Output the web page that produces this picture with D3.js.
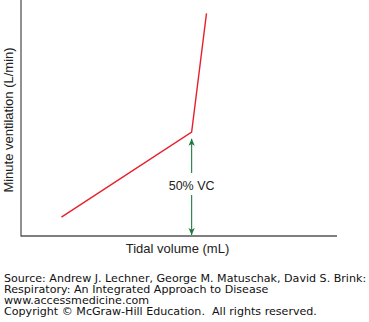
<!DOCTYPE html>
<html><head><meta charset="utf-8">
<script src="https://cdn.jsdelivr.net/npm/d3@7"></script>
<style>body{margin:0;background:#fff;}svg{display:block;}</style>
</head><body>
<svg id="c" width="369" height="322"></svg>
<script>
// Data (arbitrary units: x = tidal volume, y = minute ventilation)
const curveX = [12.8, 54, 58.7];
const curveY = [8, 44, 94.3];
const markerX = [54];
const markerLabel = ["50% VC"];
const xTitle = ["Tidal volume (mL)"];
const yTitle = ["Minute ventilation (L/min)"];
const sourceLines = [
  "Source: Andrew J. Lechner, George M. Matuschak, David S. Brink:",
  "Respiratory: An Integrated Approach to Disease",
  "www.accessmedicine.com",
  "Copyright \u00A9 McGraw-Hill Education.  All rights reserved."
];

const svg = d3.select("#c");
const m = {l: 21, r: 32, t: 0, b: 86};
const W = 369, H = 322;
const x = d3.scaleLinear().domain([0, 100]).range([m.l, W - m.r]);
const y = d3.scaleLinear().domain([0, 100]).range([H - m.b, m.t]);

const axisCol = "#555";
svg.append("line").attr("x1", x(0)).attr("x2", x(0)).attr("y1", y(100)).attr("y2", y(0) + 0.5)
  .attr("stroke", axisCol).attr("stroke-width", 1.3);
svg.append("line").attr("x1", x(0)).attr("x2", x(100)).attr("y1", y(0)).attr("y2", y(0))
  .attr("stroke", axisCol).attr("stroke-width", 1.3);

const pts = curveX.map((d, i) => [x(d), y(curveY[i])]);
svg.append("path").attr("d", d3.line()(pts)).attr("fill", "none")
  .attr("stroke", "#e8202e").attr("stroke-width", 1.4).attr("stroke-linejoin", "miter");

const green = "#1f7a3f";
const defs = svg.append("defs");
defs.append("marker").attr("id", "ah").attr("viewBox", "0 0 10 10").attr("refX", 10).attr("refY", 5)
  .attr("markerWidth", 7).attr("markerHeight", 7).attr("markerUnits", "userSpaceOnUse")
  .attr("orient", "auto")
  .append("path").attr("d", "M0,0.5 L10,5 L0,9.5 L2.5,5 Z").attr("fill", green);

const ax = x(markerX[0]);
const yTop = y(curveY[1]) + 6.5;
const yBot = y(0) - 1;
const labelY = 190;
svg.append("line").attr("x1", ax).attr("x2", ax).attr("y1", labelY - 17).attr("y2", yTop)
  .attr("stroke", green).attr("stroke-width", 1.1).attr("marker-end", "url(#ah)");
svg.append("line").attr("x1", ax).attr("x2", ax).attr("y1", labelY + 5).attr("y2", yBot)
  .attr("stroke", green).attr("stroke-width", 1.1).attr("marker-end", "url(#ah)");
svg.append("text").attr("x", ax).attr("y", labelY).attr("text-anchor", "middle")
  .attr("font-family", "Liberation Sans, Arial, sans-serif").attr("font-size", 12.5).attr("fill", "#222")
  .text(markerLabel[0]);

svg.append("text").attr("x", 177.5).attr("y", 253).attr("text-anchor", "middle")
  .attr("font-family", "Liberation Sans, Arial, sans-serif").attr("font-size", 13).attr("fill", "#222")
  .text(xTitle[0]);
svg.append("text").attr("transform", "translate(13," + 120 + ") rotate(-90)").attr("text-anchor", "middle")
  .attr("font-family", "Liberation Sans, Arial, sans-serif").attr("font-size", 13).attr("fill", "#222")
  .text(yTitle[0]);

svg.append("g").selectAll("text").data(sourceLines).join("text")
  .attr("x", 4).attr("y", (d, i) => 281.5 + i * 11.2)
  .attr("font-family", "DejaVu Sans, Verdana, sans-serif").attr("font-size", 11.1).attr("fill", "#111")
  .attr("xml:space", "preserve").style("white-space", "pre")
  .text(d => d);
</script>
</body></html>
